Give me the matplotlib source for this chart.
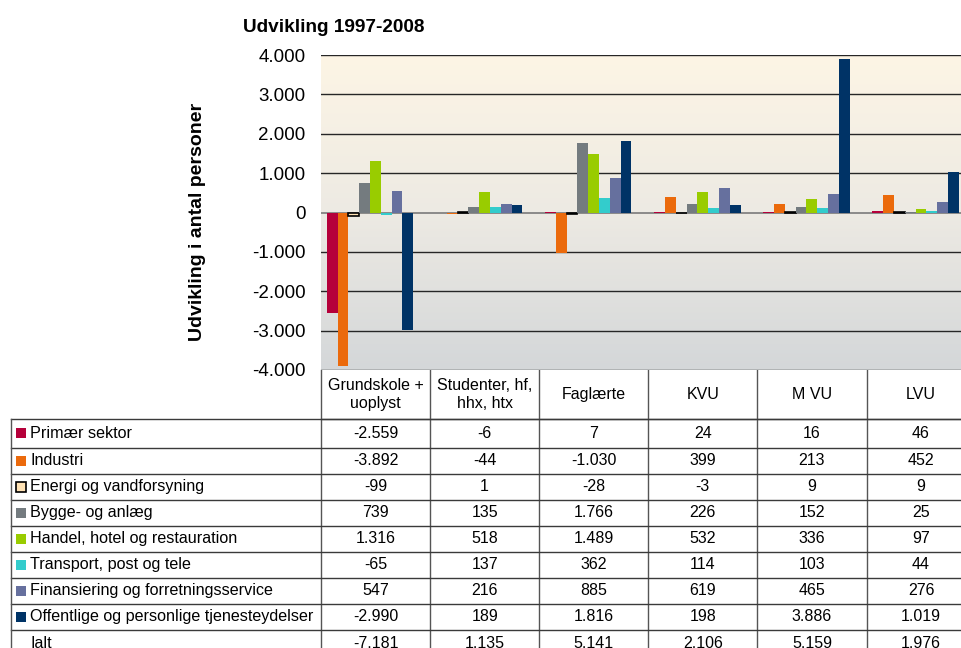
import matplotlib
matplotlib.use("Agg")
import matplotlib.pyplot as plt
import numpy as np
from matplotlib.colors import LinearSegmentedColormap

plt.rcParams['font.family'] = ['Liberation Sans', 'DejaVu Sans']

# --- data ---
groups = ["Grundskole +\nuoplyst", "Studenter, hf,\nhhx, htx", "Faglærte", "KVU", "M VU", "LVU"]
sectors = ["Primær sektor", "Industri", "Energi og vandforsyning", "Bygge- og anlæg",
           "Handel, hotel og restauration", "Transport, post og tele",
           "Finansiering og forretningsservice", "Offentlige og personlige tjenesteydelser"]
colors = ["#B5003A", "#EB6A0C", "#FFE2B4", "#747B7F", "#99CC00", "#33CCCC", "#66709E", "#003366"]

primaer = [-2559, -6, 7, 24, 16, 46]
industri = [-3892, -44, -1030, 399, 213, 452]
energi = [-99, 1, -28, -3, 9, 9]
bygge = [739, 135, 1766, 226, 152, 25]
handel = [1316, 518, 1489, 532, 336, 97]
transport = [-65, 137, 362, 114, 103, 44]
finans = [547, 216, 885, 619, 465, 276]
offentlig = [-2990, 189, 1816, 198, 3886, 1019]
ialt = [-7181, 1135, 5141, 2106, 5159, 1976]

series = [primaer, industri, energi, bygge, handel, transport, finans, offentlig]

W, H = 961, 648
fig = plt.figure(figsize=(W / 100, H / 100), dpi=100)

def fmt(v):
    return f"{v:,.0f}".replace(",", ".")

# --- table drawn in pixel coords ---
tb = fig.add_axes([0, 0, 1, 1])
tb.set_xlim(0, W)
tb.set_ylim(H, 0)
tb.axis("off")

col_x = [321 + 109.1 * i for i in range(7)]
row_y = [370, 419, 447.5, 473.5, 500, 525.5, 551.5, 577.5, 603.5, 630, 656]
lc = "#3a3a3a"

# header cells
tb.plot([col_x[0], col_x[-1]], [419, 419], color=lc, lw=1)
for x in col_x:
    tb.plot([x, x], [370, 660], color="#555555", lw=1)
for y in row_y[1:]:
    tb.plot([11, col_x[-1]], [y, y], color=lc, lw=1)
tb.plot([11, 11], [419, 660], color="#555555", lw=1)

for i, g in enumerate(groups):
    cx = (col_x[i] + col_x[i + 1]) / 2
    tb.text(cx, 394.5, g, ha="center", va="center", fontsize=11.5, linespacing=1.3)

row_names = sectors + ["Ialt"]
row_vals = series + [ialt]
for r, (name, vals) in enumerate(zip(row_names, row_vals)):
    cy = (row_y[r + 1] + row_y[r + 2]) / 2
    if r < len(sectors):
        tb.add_patch(plt.Rectangle((16, cy - 5), 10, 10, facecolor=colors[r],
                                   edgecolor="black" if r == 2 else "none", lw=1.2))
    tb.text(30, cy, name, ha="left", va="center", fontsize=11.6)
    for i, v in enumerate(vals):
        cx = (col_x[i] + col_x[i + 1]) / 2
        tb.text(cx, cy, fmt(v), ha="center", va="center", fontsize=11.5)

# --- bar chart ---
left, right, top, bottom = 321, 975.5, 55, 370
ax = fig.add_axes([left / W, 1 - bottom / H, (right - left) / W, (bottom - top) / H])
ax.patch.set_alpha(0)

cmap = LinearSegmentedColormap.from_list("bg", ["#D4D7D9", "#EDEAE3", "#FDF5E5"])
grad = np.linspace(0, 1, 256).reshape(-1, 1)
ax.imshow(grad, extent=[-0.5, 5.5, -4000, 4000], origin="lower", aspect="auto",
          cmap=cmap, zorder=0)

for v in range(-4000, 4001, 1000):
    if v != 0:
        ax.axhline(v, color="#262626", lw=1, zorder=1)
ax.axhline(0, color="#7a7a7a", lw=1.2, zorder=1)

x = np.arange(len(groups)) - 0.05
bw = 0.099
for j, vals in enumerate(series):
    ax.bar(x + (j - 3.5) * bw, vals, width=bw, color=colors[j],
           edgecolor="black" if j == 2 else "none", linewidth=1.2 if j == 2 else 0,
           zorder=3)

ax.set_xlim(-0.5, 5.5)
ax.set_ylim(-4000, 4000)
ax.set_yticks(range(-4000, 4001, 1000))
ax.set_yticklabels([fmt(v) for v in range(-4000, 4001, 1000)], fontsize=13.5)
ax.tick_params(axis="y", length=0, pad=11)
ax.set_xticks([])
for s in ax.spines.values():
    s.set_visible(False)

fig.text(243 / W, 1 - 27 / H, "Udvikling 1997-2008", fontsize=13.7, fontweight="bold",
         ha="left", va="center")
fig.text(197 / W, 1 - 222 / H, "Udvikling i antal personer", fontsize=14, fontweight="bold",
         rotation=90, ha="center", va="center")

fig.savefig("out.png", dpi=100)
